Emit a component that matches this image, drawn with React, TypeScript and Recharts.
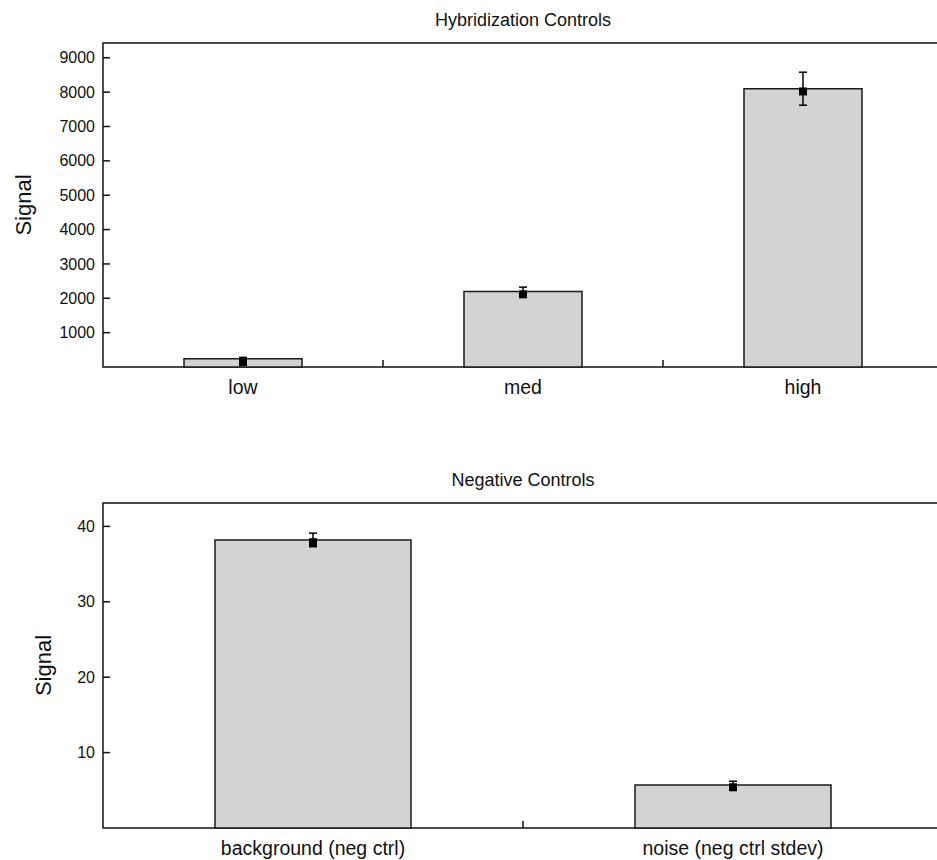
import React from "react";
import {
  ComposedChart,
  Bar,
  Scatter,
  ErrorBar,
  XAxis,
  YAxis,
  ReferenceArea,
} from "recharts";

// hybridization controls
const hybCategories = ["low", "med", "high"];
const hybSignal = [240, 2200, 8100];
const hybError = [40, 125, 480];
const hybMarker = [145, 2115, 8020];
const hybTicks = [1000, 2000, 3000, 4000, 5000, 6000, 7000, 8000, 9000];
const hybMax = 9430;

// negative controls
const negCategories = ["background (neg ctrl)", "noise (neg ctrl stdev)"];
const negSignal = [38.2, 5.7];
const negError = [0.9, 0.5];
const negMarker = [37.9, 5.4];
const negTicks = [10, 20, 30, 40];
const negMax = 43.1;

const FONT = '"Liberation Sans", Arial, Helvetica, sans-serif';
const INK = "#111";

const YTick = (props: any) => {
  const { x, y, payload } = props;
  return (
    <g>
      <line x1={x + 8} x2={x + 15} y1={y} y2={y} stroke={INK} strokeWidth={1.5} />
      <text x={x} y={y} dy="0.35em" textAnchor="end" fontSize={16} fill={INK} fontFamily={FONT}>
        {payload.value}
      </text>
    </g>
  );
};

const XTick = (props: any) => {
  const { x, y, payload, index, visibleTicksCount, width } = props;
  const half = payload.offset ?? width / visibleTicksCount / 2;
  const last = index === visibleTicksCount - 1;
  return (
    <g>
      {!last && (
        <line
          x1={x + half}
          x2={x + half}
          y1={y - 13}
          y2={y - 20}
          stroke={INK}
          strokeWidth={1.5}
        />
      )}
      <text x={x} y={y} dy="0.71em" textAnchor="middle" fontSize={19.5} fill={INK} fontFamily={FONT}>
        {payload.value}
      </text>
    </g>
  );
};

const Marker = (props: any) => (
  <rect x={props.cx - 4} y={props.cy - 4} width={8} height={8} fill="#000" />
);

function Panel({
  title,
  categories,
  signal,
  error,
  marker,
  ticks,
  max,
  top,
  height,
  xHeight,
  barSize,
  labelOffset,
}: {
  title: string;
  categories: string[];
  signal: number[];
  error: number[];
  marker: number[];
  ticks: number[];
  max: number;
  top: number;
  height: number;
  xHeight: number;
  barSize: number;
  labelOffset: number;
}) {
  const data = categories.map((name, i) => ({
    name,
    signal: signal[i],
    err: error[i],
    marker: marker[i],
  }));
  return (
    <div style={{ position: "absolute", left: 0, top: 0, width: 960, height }}>
      <div
        style={{
          position: "absolute",
          left: 103,
          width: 840,
          top: top - 33,
          lineHeight: "20px",
          textAlign: "center",
          fontSize: 18,
          color: INK,
          fontFamily: FONT,
        }}
      >
        {title}
      </div>
      <ComposedChart
        width={960}
        height={height}
        data={data}
        margin={{ top, right: 17, bottom: 0, left: 0 }}
      >
        <XAxis
          dataKey="name"
          type="category"
          height={xHeight}
          axisLine={false}
          tickLine={false}
          tickSize={0}
          tickMargin={13}
          tick={<XTick />}
          interval={0}
        />
        <YAxis
          type="number"
          domain={[0, max]}
          ticks={ticks}
          width={103}
          axisLine={false}
          tickLine={false}
          tickSize={0}
          tickMargin={8}
          tick={<YTick />}
          label={{
            value: "Signal",
            angle: -90,
            position: "insideLeft",
            offset: labelOffset,
            fontSize: 22,
            fill: INK,
            fontFamily: FONT,
            style: { textAnchor: "middle" },
          }}
        />
        <Bar
          dataKey="signal"
          fill="#d3d3d3"
          stroke="#1a1a1a"
          strokeWidth={1.5}
          barSize={barSize}
          isAnimationActive={false}
        >
          <ErrorBar
            dataKey="err"
            direction="y"
            width={4}
            stroke="#000"
            strokeWidth={1.5}
            isAnimationActive={false}
          />
        </Bar>
        <Scatter dataKey="marker" shape={<Marker />} isAnimationActive={false} />
        <ReferenceArea
          y1={0}
          y2={max}
          fill="none"
          stroke={INK}
          strokeWidth={1.5}
          ifOverflow="visible"
        />
      </ComposedChart>
    </div>
  );
}

export default function App() {
  return (
    <div
      style={{
        position: "absolute",
        left: 0,
        top: 0,
        width: 937,
        height: 860,
        overflow: "hidden",
        background: "#fff",
      }}
    >
      <div style={{ position: "absolute", left: 0, top: 0 }}>
        <Panel
          title="Hybridization Controls"
          categories={hybCategories}
          signal={hybSignal}
          error={hybError}
          marker={hybMarker}
          ticks={hybTicks}
          max={hybMax}
          top={43}
          height={420}
          xHeight={53}
          barSize={118}
          labelOffset={23}
        />
      </div>
      <div style={{ position: "absolute", left: 0, top: 430 }}>
        <Panel
          title="Negative Controls"
          categories={negCategories}
          signal={negSignal}
          error={negError}
          marker={negMarker}
          ticks={negTicks}
          max={negMax}
          top={73}
          height={430}
          xHeight={32}
          barSize={196}
          labelOffset={43}
        />
      </div>
    </div>
  );
}
